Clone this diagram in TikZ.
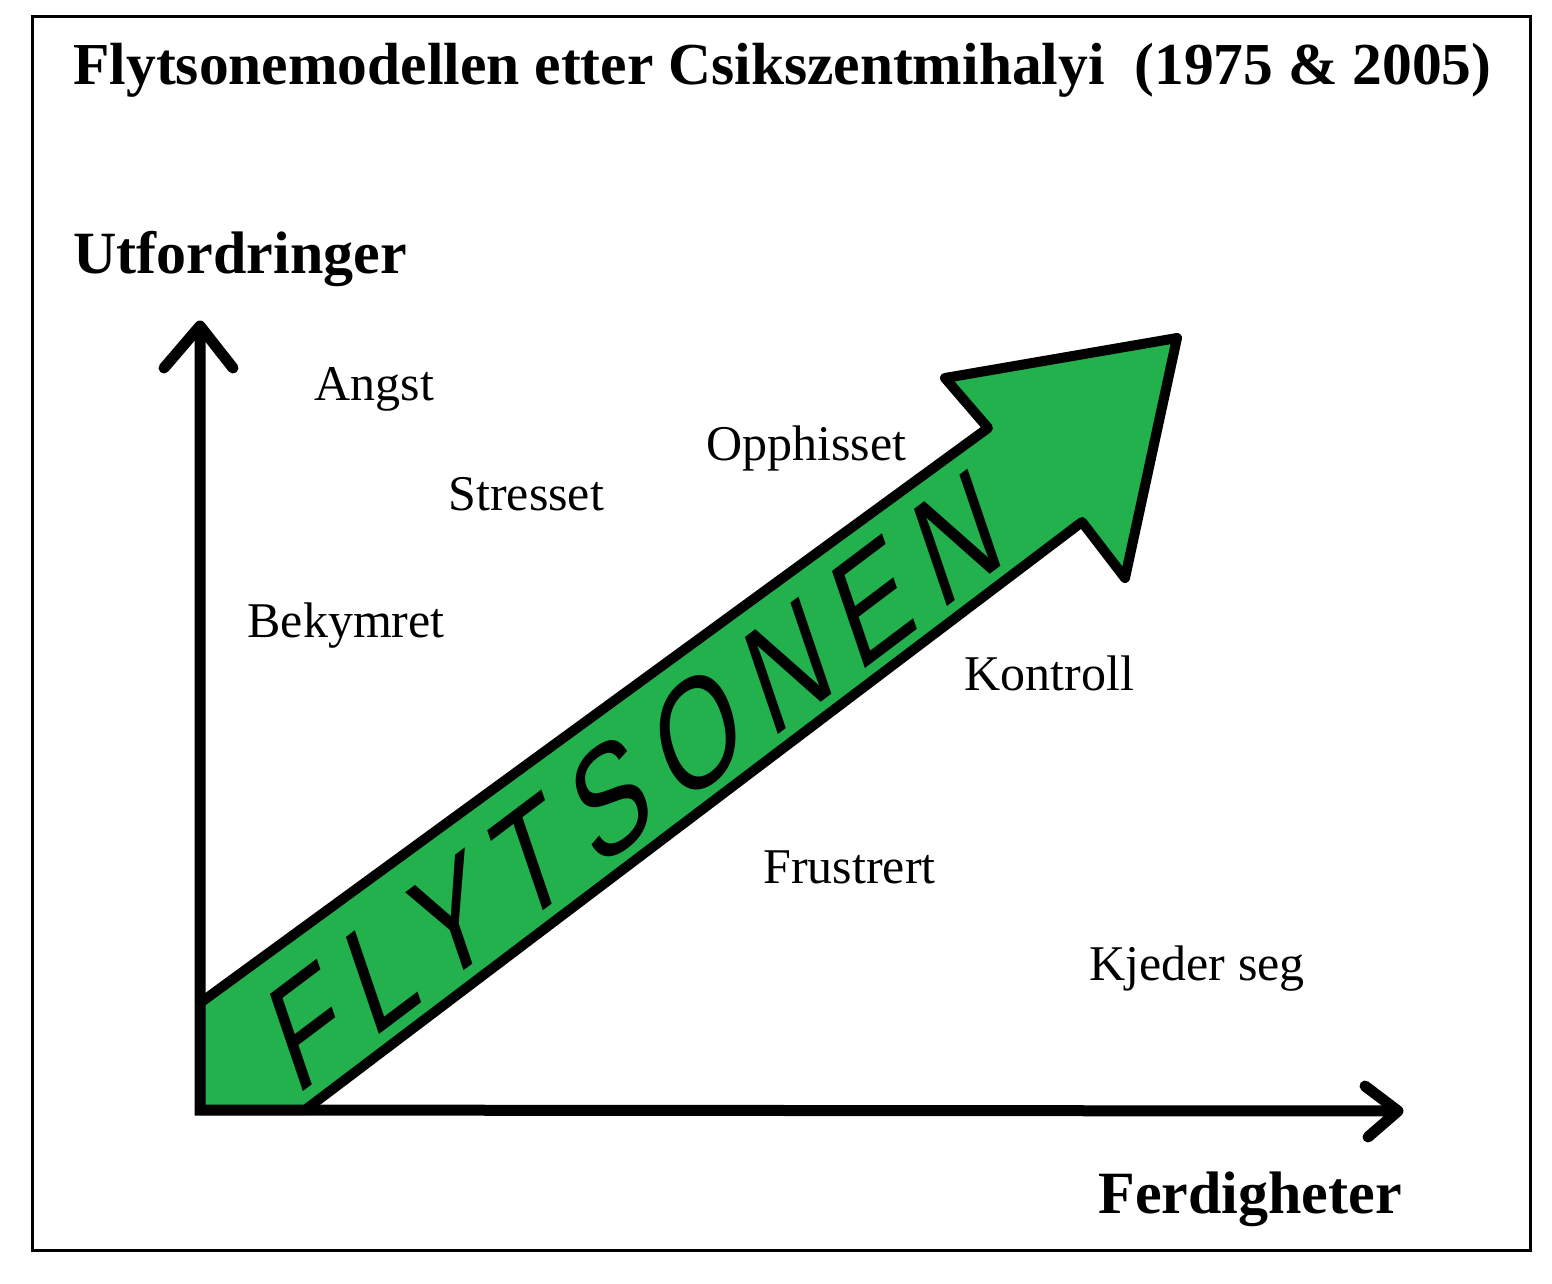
\documentclass[tikz,border=0pt]{standalone}
\usepackage{fontspec}
\setmainfont{Liberation Serif}
\newfontfamily\handfont[LetterSpace=19]{Liberation Sans}
\definecolor{flytgreen}{RGB}{34,177,76}

\begin{document}
\begin{tikzpicture}[x=1pt,y=-1pt,
                        line width=11pt,
        feel/.style={anchor=base west, inner sep=0pt,
                        font=\fontsize{50}{50}\selectfont},
        axislbl/.style={anchor=base west, inner sep=0pt,
                        font=\fontsize{60}{60}\selectfont\bfseries}]
    \useasboundingbox (0,0) rectangle (1552,1284);
    \draw[line width=3pt] (32,17) rectangle (1530,1250);
    \node[axislbl, font=\fontsize{59.5}{59.5}\selectfont\bfseries] (title)
        at (68,85) {Flytsonemodellen etter Csikszentmihalyi~ (1975 \& 2005)};

    % the flow arrow
    \draw[fill=flytgreen, line width=10pt, line join=round]
        (200,1110) -- (305,1110) -- (1082,522) -- (1125,578) --
        (1177,338) -- (945,378) -- (988,428) -- (200,1003) -- cycle;
    \node[font=\handfont\fontsize{120}{120}\selectfont, inner sep=0pt,
        anchor=base, rotate=37, xslant=0.33, yscale=1.18]
        (flyt) at (652,829) {FLYTSONEN};

    % axes
    \coordinate (O) at (200,1110);
    \coordinate (ytop) at (200,326);
    \coordinate (xend) at (1398,1111);
    \draw[line join=miter] (ytop) -- (O) -- (xend);
    \draw[line cap=round, line join=round]
        (ytop) ++(-36,42) -- (ytop) -- ++(33,42);
    \draw[line cap=round, line join=round]
        (xend) ++(-33,-25) -- (xend) -- ++(-30,26);
    \node[axislbl] (utf) at (68,273) {Utfordringer};
    \node[axislbl] (ferd) at (1093,1213) {Ferdigheter};

    % feelings
    \node[feel] (angst) at (309,400) {Angst};
    \node[feel] (stress) at (443,510) {Stresset};
    \node[feel] (opph) at (701,460) {Opphisset};
    \node[feel] (bekym) at (242,637) {Bekymret};
    \node[feel] (kontr) at (959,690) {Kontroll};
    \node[feel] (frust) at (758,883) {Frustrert};
    \node[feel] (kjed) at (1084,980) {Kjeder seg};
\end{tikzpicture}
\end{document}
